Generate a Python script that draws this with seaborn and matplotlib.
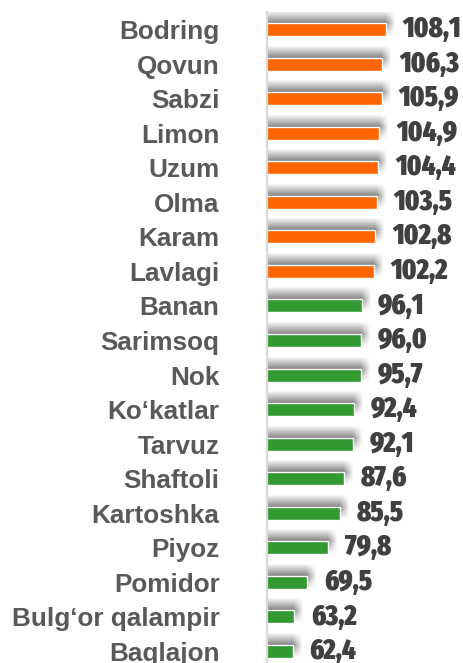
import matplotlib
matplotlib.use("Agg")
import matplotlib.pyplot as plt
import matplotlib.patheffects as pe
from matplotlib import font_manager as fm
from matplotlib.textpath import TextPath
import seaborn as sns

categories = ["Bodring", "Qovun", "Sabzi", "Limon", "Uzum", "Olma", "Karam",
              "Lavlagi", "Banan", "Sarimsoq", "Nok", "Ko\u2018katlar", "Tarvuz",
              "Shaftoli", "Kartoshka", "Piyoz", "Pomidor",
              "Bulg\u2018or qalampir", "Baqlajon"]
values = [108.1, 106.3, 105.9, 104.9, 104.4, 103.5, 102.8, 102.2, 96.1, 96.0,
          95.7, 92.4, 92.1, 87.6, 85.5, 79.8, 69.5, 63.2, 62.4]

ORANGE = "#FF6600"
GREEN = "#339933"
colors = [ORANGE if v > 100 else GREEN for v in values]

sns.set_theme(style="white")
plt.rcParams["font.family"] = ["Liberation Sans", "DejaVu Sans"]

STRETCH = {"ultra-condensed": 100, "extra-condensed": 200, "condensed": 300,
           "semi-condensed": 400, "normal": 500, "semi-expanded": 600,
           "expanded": 700, "extra-expanded": 800, "ultra-expanded": 900}
WEIGHT = {"ultralight": 100, "light": 300, "normal": 400, "regular": 400,
          "book": 400, "medium": 500, "roman": 500, "semibold": 600,
          "demibold": 600, "demi": 600, "bold": 700, "heavy": 800,
          "extra bold": 800, "black": 900}


def _num(v, table):
    if isinstance(v, (int, float)):
        return int(v)
    return table.get(str(v).lower(), 500)


def condensed_bold():
    """Pick an upright, heavy, narrow face that is installed, if any."""
    best, best_score = None, None
    for f in fm.fontManager.ttflist:
        name = (f.name + " " + f.fname).lower()
        if f.style != "normal" or "italic" in name or "oblique" in name:
            continue
        st = _num(f.stretch, STRETCH)
        if "narrow" in name or "condensed" in name.replace("semicondensed", ""):
            st = min(st, 300)
        if "extracondensed" in name or "extra condensed" in name:
            st = min(st, 200)
        wt = _num(f.weight, WEIGHT)
        if st > 300 or wt < 700:
            continue
        score = abs(st - 200) + abs(wt - 900) * 0.5
        if best_score is None or score < best_score:
            best, best_score = f, score
    if best is None:
        return fm.FontProperties(family="DejaVu Sans", weight="bold")
    return fm.FontProperties(fname=best.fname)


value_font = condensed_bold()
# size the numbers so that a five-character value is about 58 px wide
ext = TextPath((0, 0), "108,1", size=1, prop=value_font).get_extents()
ext_h = TextPath((0, 0), "108", size=1, prop=value_font).get_extents().height
size_px = min(58 / ext.width, 23 / ext_h)
value_font.set_size(size_px * 0.72)

W, H = 464, 663
fig = plt.figure(figsize=(W / 100, H / 100), dpi=100)
ax_left, ax_top, ax_bottom = 267.5, 12.2, 668.8
ax = fig.add_axes([ax_left / W, 1 - ax_bottom / H, (W - ax_left) / W,
                   (ax_bottom - ax_top) / H])

sns.barplot(x=values, y=categories, hue=categories, palette=colors,
            orient="h", width=0.376, legend=False, ax=ax, saturation=1)

# soft shadow above each bar, built from many faint offset copies
shadow = []
for dy in range(1, 13):
    for dx in range(0, 10):
        shadow.append(pe.SimplePatchShadow(offset=(dx * 0.72, dy * 0.72),
                                           shadow_rgbFace="#000000",
                                           alpha=0.0042))
shadow.append(pe.Normal())
for patch in ax.patches:
    patch.set_path_effects(shadow)

ax.set_xlim(50, 50 + (W - ax_left) / 2.04)
ax.set_ylim(len(categories) - 0.5, -0.5)

for i, v in enumerate(values):
    ax.annotate(f"{v:.1f}".replace(".", ","), xy=(v, i), xytext=(12, 0),
                textcoords="offset points", ha="left", va="center",
                fontproperties=value_font, color="#404040")

ax.set_xticks([])
ax.set_xlabel("")
ax.set_ylabel("")
ax.tick_params(axis="y", length=0, pad=34.5)
for lbl in ax.get_yticklabels():
    lbl.set_fontsize(18.8)
    lbl.set_fontweight("bold")
    lbl.set_color("#595959")

for side in ("top", "right", "bottom"):
    ax.spines[side].set_visible(False)
ax.spines["left"].set_color("#D9D9D9")
ax.spines["left"].set_linewidth(1.6)

fig.savefig("out.png", dpi=100)
